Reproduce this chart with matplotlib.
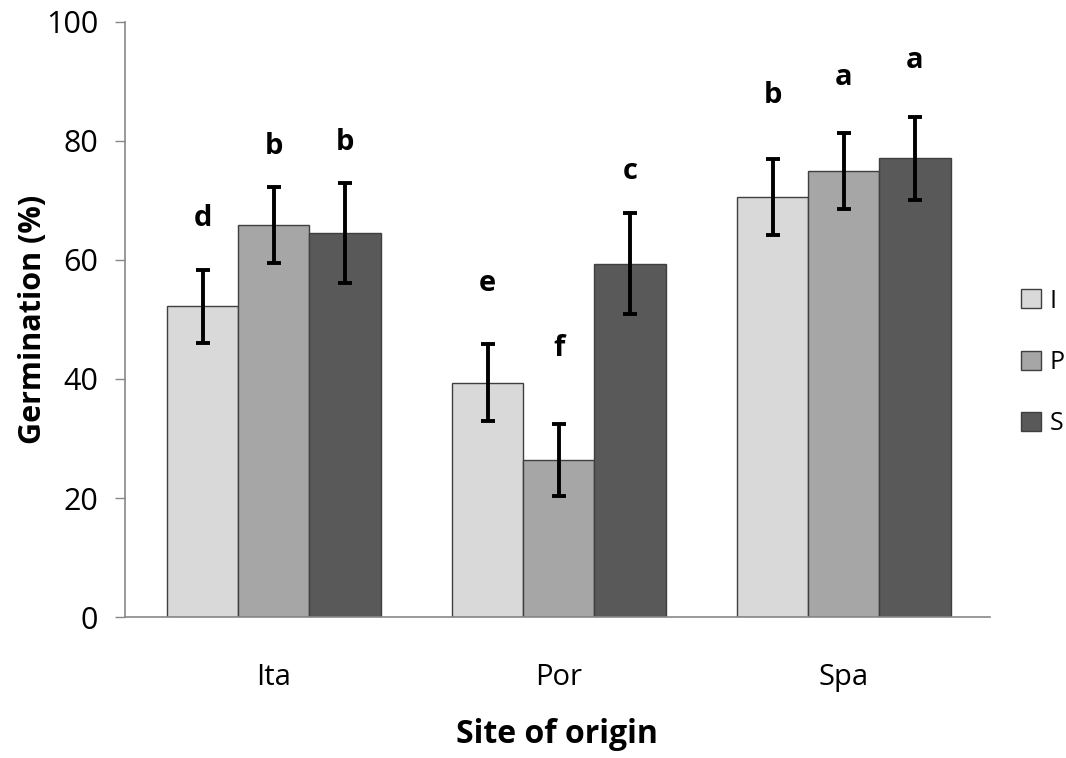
import numpy as np
import matplotlib
matplotlib.use("Agg")
import matplotlib.pyplot as plt

plt.rcParams['font.family'] = ['Open Sans', 'DejaVu Sans']

sites = ['Ita', 'Por', 'Spa']
treatments = ['I', 'P', 'S']
germination = {
    'I': [52.2, 39.4, 70.6],
    'P': [65.9, 26.4, 75.0],
    'S': [64.6, 59.4, 77.1],
}
errors = {
    'I': [6.1, 6.4, 6.4],
    'P': [6.4, 6.1, 6.4],
    'S': [8.4, 8.5, 7.0],
}
letters = {
    'I': ['d', 'e', 'b'],
    'P': ['b', 'f', 'a'],
    'S': ['b', 'c', 'a'],
}
letter_y = {
    'I': [66.9, 56.0, 87.7],
    'P': [79.0, 45.2, 90.6],
    'S': [79.8, 74.8, 93.6],
}
colors = {'I': '#d9d9d9', 'P': '#a6a6a6', 'S': '#595959'}

fig = plt.figure(figsize=(10.66, 7.58), dpi=100)
ax = fig.add_axes([0.117, 0.186, 0.8114, 0.785])

x = np.arange(len(sites))
width = 0.25
for i, t in enumerate(treatments):
    pos = x + (i - 1) * width
    ax.bar(pos, germination[t], width, color=colors[t], edgecolor='#3f3f3f',
           linewidth=1.0, label=t, zorder=2)
    ax.errorbar(pos, germination[t], yerr=errors[t], fmt='none', ecolor='black',
                elinewidth=2.8, capsize=5, capthick=2.8, zorder=3)
    for xp, lab, ly in zip(pos, letters[t], letter_y[t]):
        ax.text(xp, ly, lab, ha='center', va='center', fontsize=21,
                fontweight='bold')

ax.set_xlim(-0.523, 2.512)
ax.set_ylim(0, 100)
ax.set_yticks(range(0, 101, 20))
ax.set_xticks(x)
ax.set_xticklabels(sites)
ax.tick_params(axis='y', direction='out', length=7, width=1, color='#888888',
               labelsize=22, pad=12)
ax.tick_params(axis='x', length=0, labelsize=21, pad=33)
for side in ['top', 'right']:
    ax.spines[side].set_visible(False)
for side in ['left', 'bottom']:
    ax.spines[side].set_color('#888888')
    ax.spines[side].set_linewidth(1.2)

ax.set_ylabel('Germination (%)', fontsize=22, fontweight='bold')
ax.yaxis.set_label_coords(-0.089, 0.5)
ax.set_xlabel('Site of origin', fontsize=23, fontweight='bold')
ax.xaxis.set_label_coords(0.5, -0.17)

fig.legend(loc='center left', bbox_to_anchor=(0.937, 0.522), frameon=False,
           fontsize=18, handlelength=0.78, handleheight=0.78, handletextpad=0.35,
           labelspacing=1.45)

fig.savefig('out.png', dpi=100)
